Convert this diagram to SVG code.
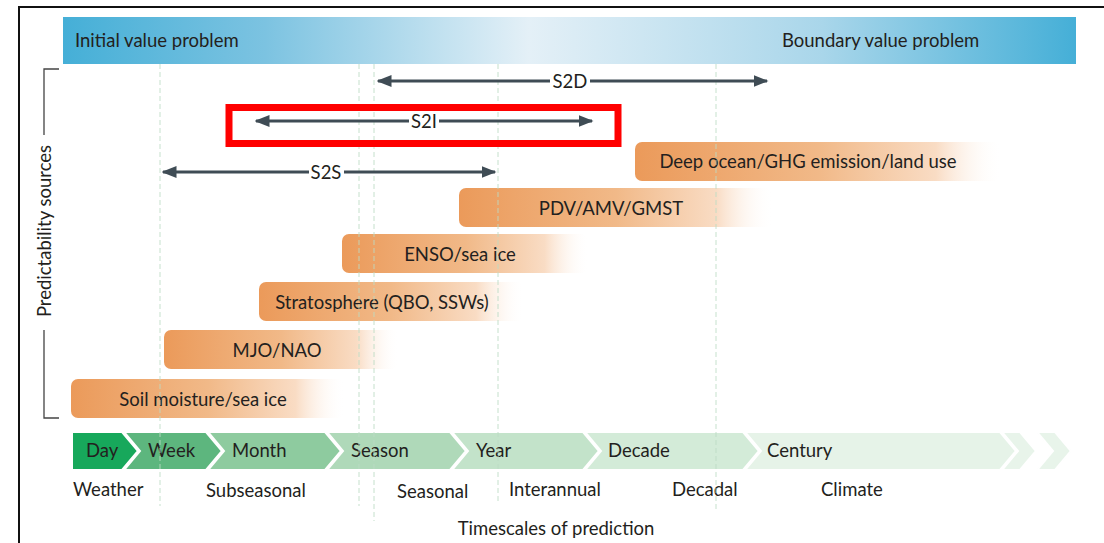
<svg xmlns="http://www.w3.org/2000/svg" width="1104" height="543" viewBox="0 0 1104 543">
<defs>
<linearGradient id="blueBar" x1="0" y1="0" x2="1" y2="0">
<stop offset="0" stop-color="#45afd7"/>
<stop offset="0.2" stop-color="#7cc3e1"/>
<stop offset="0.46" stop-color="#e4f0f7"/>
<stop offset="0.75" stop-color="#a9d6ea"/>
<stop offset="1" stop-color="#45afd7"/>
</linearGradient>
<linearGradient id="orange" x1="0" y1="0" x2="1" y2="0">
<stop offset="0" stop-color="#eb9a5a"/>
<stop offset="0.5" stop-color="#f1b988"/>
<stop offset="0.82" stop-color="#f9dcc4"/>
<stop offset="1" stop-color="#ffffff" stop-opacity="0"/>
</linearGradient>
<marker id="ah" viewBox="0 0 10 10" refX="9" refY="5" markerWidth="5" markerHeight="5" orient="auto-start-reverse" markerUnits="strokeWidth">
<path d="M0,1 L10,5 L0,9 Z" fill="#3f4c55"/>
</marker>
<style>
.t{font-family:Lato,"Open Sans","Liberation Sans",sans-serif;fill:#231f20;}
.lab{font-size:18.5px;}
.bar{fill:url(#orange);}
.dash{stroke:#bcdcc4;stroke-width:1;stroke-dasharray:5 3;fill:none;}
.arr{stroke:#3f4c55;stroke-width:3;fill:none;}
.chev{stroke:#ffffff;stroke-width:2;}
</style>
</defs>
<rect x="0" y="0" width="1104" height="543" fill="#ffffff"/>
<!-- frame -->
<path d="M19,543 V7 H1104" fill="none" stroke="#111" stroke-width="2"/>

<!-- top bar -->
<g id="topbar">
<rect x="63" y="17" width="1013" height="47" fill="url(#blueBar)"/>
<text class="t" x="75" y="47" font-size="18.5">Initial value problem</text>
<text class="t" x="782" y="47" font-size="18.5">Boundary value problem</text>
</g>

<!-- predictability sources axis -->
<g id="axis-sources">
<path d="M59,69 H44 V135 M44,330 V418 H59" fill="none" stroke="#444" stroke-width="1.3"/>
<text class="t" font-size="18.5" transform="translate(51,231) rotate(-90)" text-anchor="middle">Predictability sources</text>
</g>

<!-- source bars -->
<g id="deep-ocean"><rect class="bar" x="635" y="142" width="367" height="39" rx="7"/><text class="t lab" x="808" y="168" text-anchor="middle">Deep ocean/GHG emission/land use</text></g>
<g id="pdv"><rect class="bar" x="459" y="188" width="314" height="39" rx="7"/><text class="t lab" x="611" y="215" text-anchor="middle">PDV/AMV/GMST</text></g>
<g id="enso"><rect class="bar" x="342" y="234" width="247" height="39" rx="7"/><text class="t lab" x="460" y="261" text-anchor="middle">ENSO/sea ice</text></g>
<g id="strat"><rect class="bar" x="259" y="282" width="265" height="39" rx="7"/><text class="t lab" x="382" y="309" text-anchor="middle">Stratosphere (QBO, SSWs)</text></g>
<g id="mjo"><rect class="bar" x="164" y="330" width="235" height="39" rx="7"/><text class="t lab" x="277" y="357" text-anchor="middle">MJO/NAO</text></g>
<g id="soil"><rect class="bar" x="71" y="379" width="274" height="39" rx="7"/><text class="t lab" x="203" y="406" text-anchor="middle">Soil moisture/sea ice</text></g>

<!-- timeline chevrons -->
<g id="timeline">
<polygon class="chev" fill="#e8f4ea" points="1037,432 1055,432 1071,451 1055,470 1037,470 1053,451"/>
<polygon class="chev" fill="#e8f4ea" points="1002,432 1020,432 1036,451 1020,470 1002,470 1018,451"/>
<polygon class="chev" fill="#e6f3e8" points="745,432 1000,432 1016,451 1000,470 745,470 761,451"/>
<polygon class="chev" fill="#d3ebd8" points="585,432 743,432 759,451 743,470 585,470 601,451"/>
<polygon class="chev" fill="#c3e3ca" points="452,432 583,432 599,451 583,470 452,470 468,451"/>
<polygon class="chev" fill="#afd9b9" points="327,432 450,432 466,451 450,470 327,470 343,451"/>
<polygon class="chev" fill="#8ecb9f" points="208,432 325,432 341,451 325,470 208,470 224,451"/>
<polygon class="chev" fill="#5db67e" points="124,432 206,432 222,451 206,470 124,470 140,451"/>
<polygon class="chev" fill="#17a85b" points="72,432 122,432 138,451 122,470 72,470"/>
<text class="t lab" x="86" y="457">Day</text>
<text class="t lab" x="148" y="457">Week</text>
<text class="t lab" x="232" y="457">Month</text>
<text class="t lab" x="351" y="457">Season</text>
<text class="t lab" x="476" y="457">Year</text>
<text class="t lab" x="608" y="457">Decade</text>
<text class="t lab" x="767" y="457">Century</text>
</g>

<!-- timescale labels -->
<g id="timescales">
<text class="t lab" x="73" y="496">Weather</text>
<text class="t lab" x="206" y="497">Subseasonal</text>
<text class="t lab" x="397" y="498">Seasonal</text>
<text class="t lab" x="509" y="496">Interannual</text>
<text class="t lab" x="672" y="496">Decadal</text>
<text class="t lab" x="821" y="496">Climate</text>
<text class="t lab" x="556" y="535" text-anchor="middle">Timescales of prediction</text>
</g>

<!-- dashed guide lines -->
<g id="guides" opacity="0.85">
<line class="dash" x1="160" y1="64" x2="160" y2="506"/>
<line class="dash" x1="359" y1="64" x2="359" y2="506"/>
<line class="dash" x1="374" y1="64" x2="374" y2="521"/>
<line class="dash" x1="498" y1="64" x2="498" y2="503"/>
<line class="dash" x1="716" y1="64" x2="716" y2="510"/>
</g>

<!-- range arrows -->
<g id="connectors">
<line class="arr" x1="378" y1="81" x2="550" y2="81" marker-start="url(#ah)"/>
<line class="arr" x1="590" y1="81" x2="767" y2="81" marker-end="url(#ah)"/>
<line class="arr" x1="256" y1="121" x2="409" y2="121" marker-start="url(#ah)"/>
<line class="arr" x1="439" y1="121" x2="592" y2="121" marker-end="url(#ah)"/>
<line class="arr" x1="163" y1="172" x2="309" y2="172" marker-start="url(#ah)"/>
<line class="arr" x1="344" y1="172" x2="495" y2="172" marker-end="url(#ah)"/>
</g>
<g id="range-labels">
<text class="t" x="570" y="88" font-size="18.5" text-anchor="middle">S2D</text>
<text class="t" x="424" y="128" font-size="18.5" text-anchor="middle">S2I</text>
<text class="t" x="326" y="179" font-size="18.5" text-anchor="middle">S2S</text>
</g>

<!-- highlight box -->
<g id="highlight">
<rect x="229" y="107.5" width="389" height="36" fill="none" stroke="#ff0000" stroke-width="7"/>
</g>
</svg>
